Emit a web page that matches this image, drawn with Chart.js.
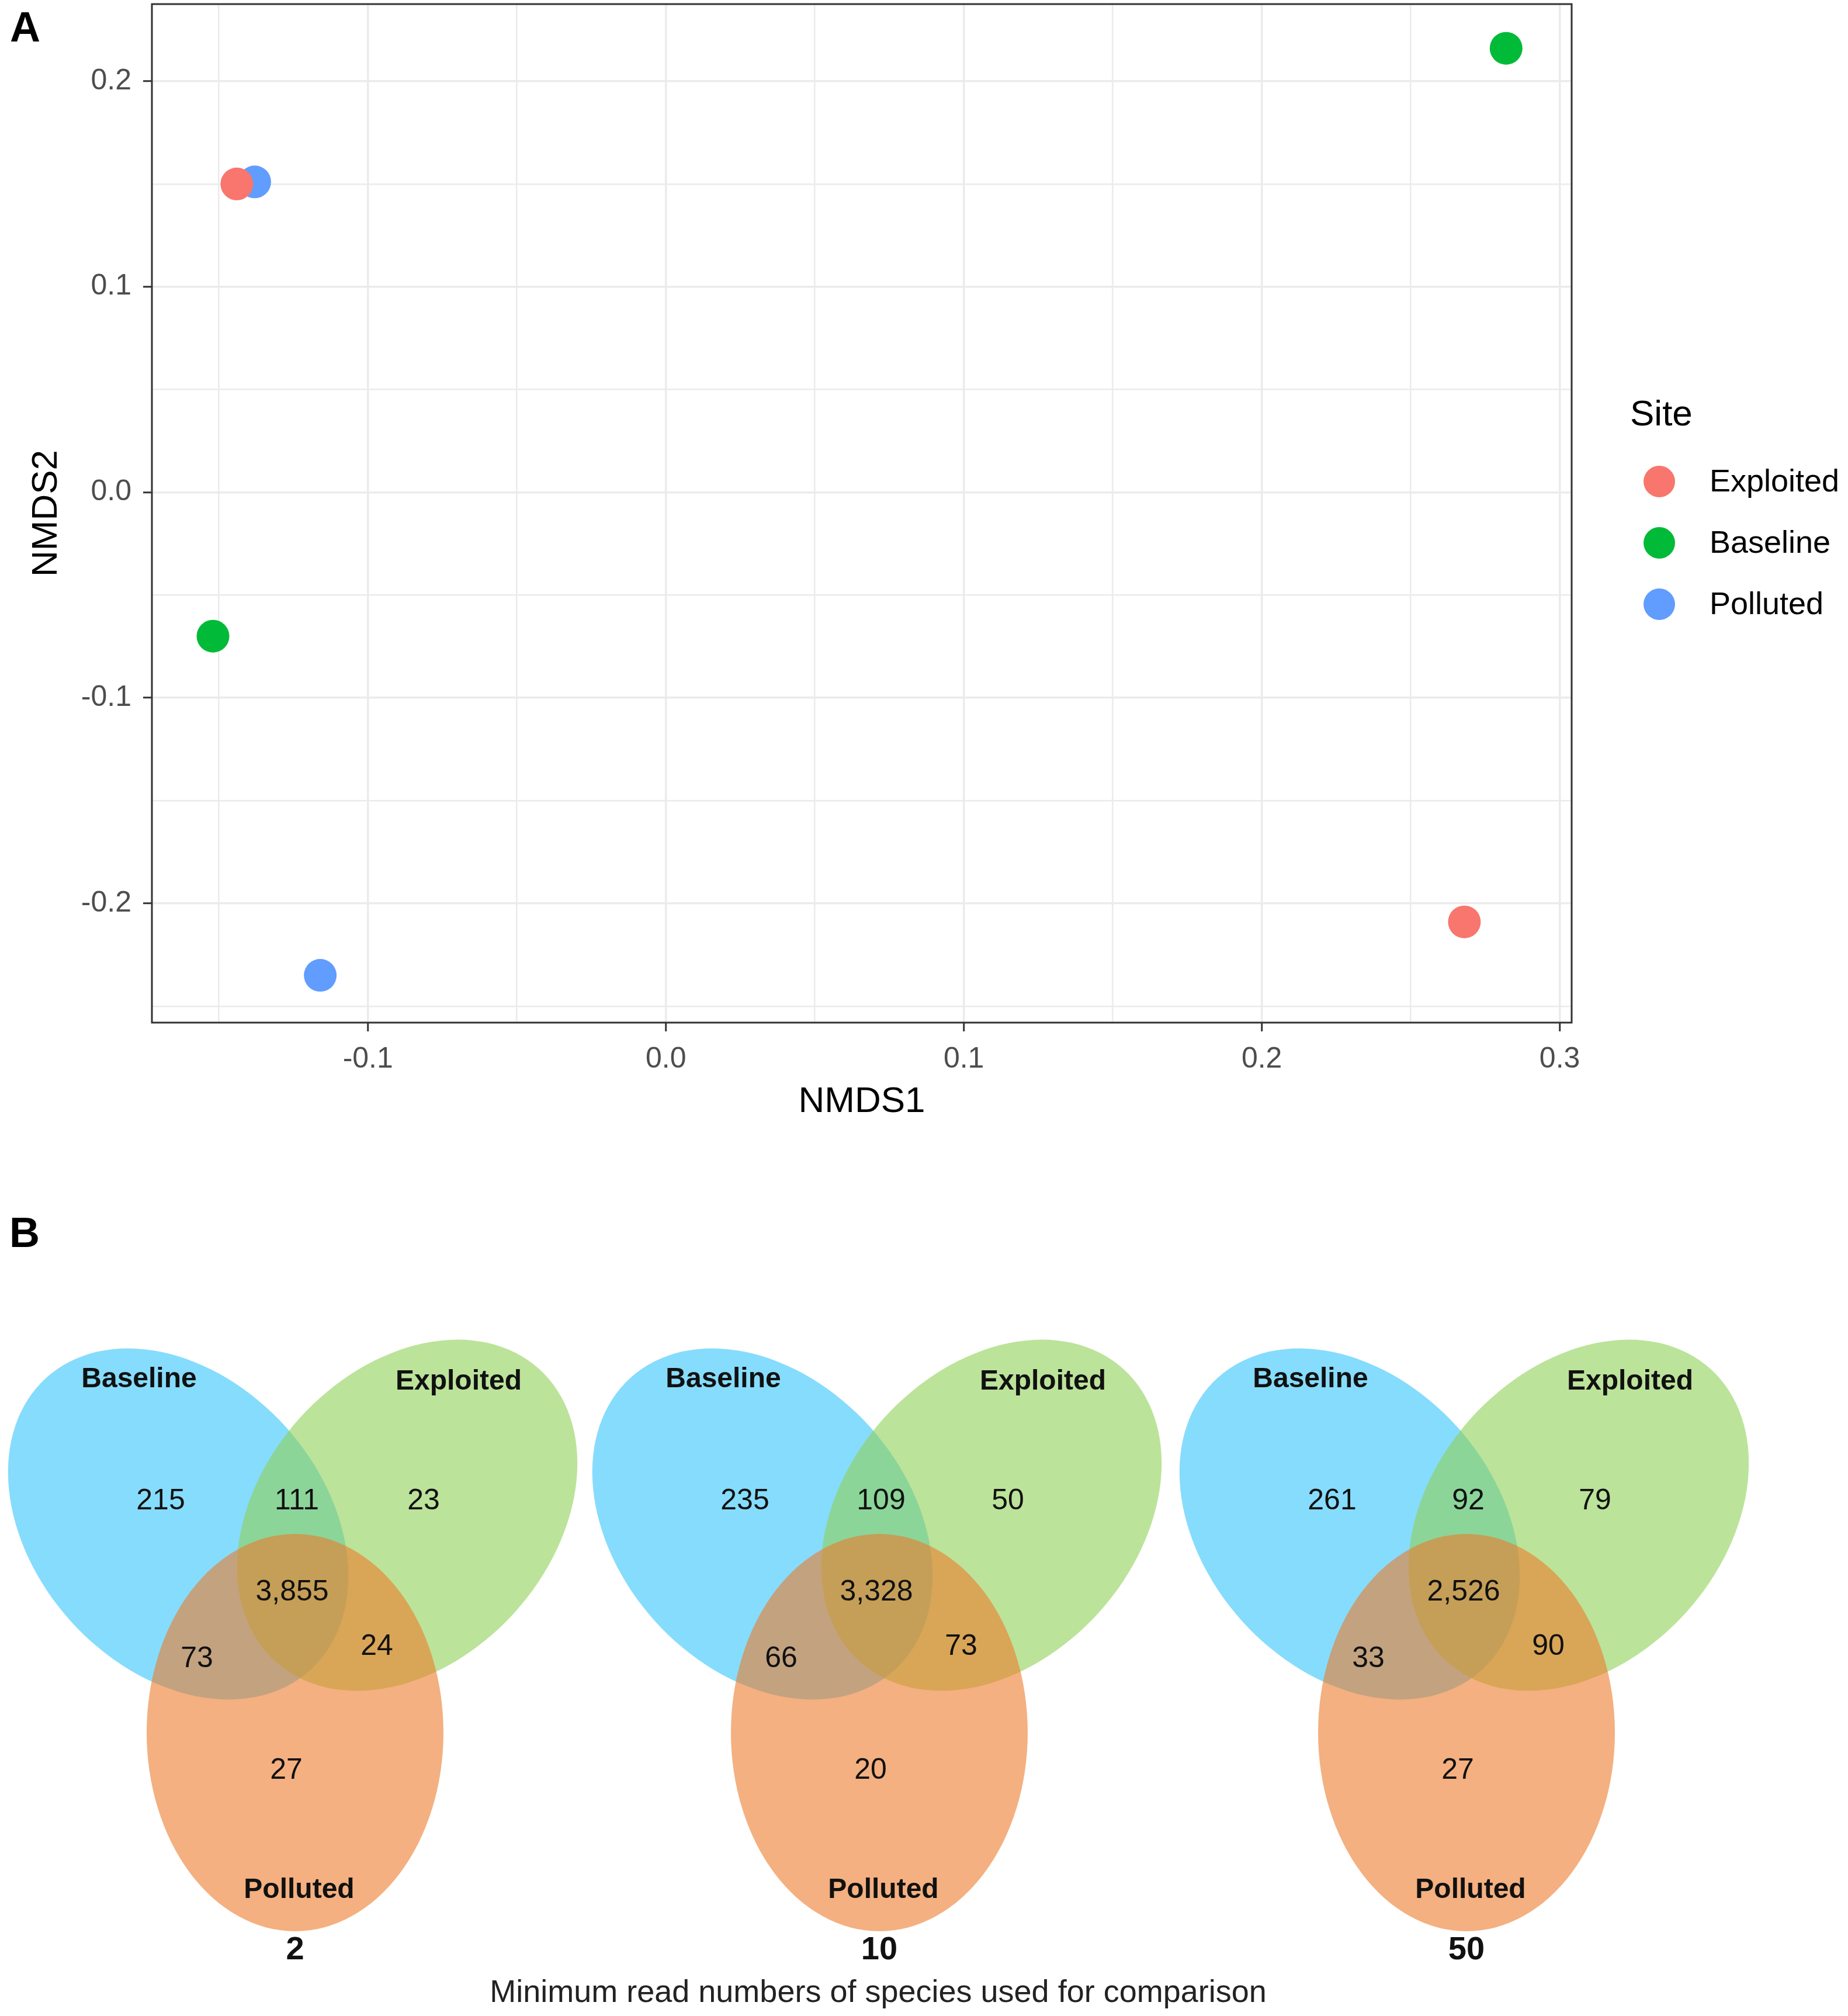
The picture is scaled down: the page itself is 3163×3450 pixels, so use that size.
<!DOCTYPE html>
<html>
<head>
<meta charset="utf-8">
<title>NMDS et diagrammes de Venn</title>
<script src="https://cdn.jsdelivr.net/npm/chart.js@4.4.1/dist/chart.umd.min.js"></script>
<style>
  html, body { margin: 0; padding: 0; background: #ffffff; }
  #page  { position: relative; width: 3163px; height: 3450px; }
  #nmds  { position: absolute; left: 0; top: 0; }
  #venn  { position: absolute; left: 0; top: 1950px; }
</style>
</head>
<body>
<div id="page">
  <canvas id="nmds" width="3163" height="1950"></canvas>
  <canvas id="venn" width="3163" height="1500"></canvas>
</div>
<script>
// ---- Panel A : NMDS ----
const SITES        = ['Exploited', 'Baseline', 'Polluted'];
const SITE_COLOURS = ['#F8766D', '#00BA38', '#619CFF'];

const NMDS1_EXPLOITED = [-0.144, 0.268];
const NMDS2_EXPLOITED = [0.150, -0.209];
const NMDS1_BASELINE  = [-0.152, 0.282];
const NMDS2_BASELINE  = [-0.070, 0.216];
const NMDS1_POLLUTED  = [-0.138, -0.116];
const NMDS2_POLLUTED  = [0.151, -0.235];

const X_MAJOR = [-0.1, 0.0, 0.1, 0.2, 0.3];
const X_MINOR = [-0.15, -0.05, 0.05, 0.15, 0.25];
const Y_MAJOR = [-0.2, -0.1, 0.0, 0.1, 0.2];
const Y_MINOR = [-0.25, -0.15, -0.05, 0.05, 0.15];

// ---- Panel B : Venn ----
const THRESHOLDS         = ['2', '10', '50'];
const SET_NAMES          = ['Baseline', 'Exploited', 'Polluted'];
const BASELINE_ONLY      = [215, 235, 261];
const BASELINE_EXPLOITED = [111, 109, 92];
const EXPLOITED_ONLY     = [23, 50, 79];
const ALL_THREE          = [3855, 3328, 2526];
const BASELINE_POLLUTED  = [73, 66, 33];
const EXPLOITED_POLLUTED = [24, 73, 90];
const POLLUTED_ONLY      = [27, 20, 27];

const FONT = "'Liberation Sans', Arial, sans-serif";
Chart.defaults.font.family = FONT;

function points(xs, ys) {
    return xs.map((x, i) => ({ x: x, y: ys[i] }));
}

function ticksFrom(major, minor) {
    return major.map(v => ({ value: v, minor: false }))
        .concat(minor.map(v => ({ value: v, minor: true })))
        .sort((a, b) => a.value - b.value);
}

// grille ggplot : lignes majeures + mineures, traits seulement sur les majeures
function gridOptions() {
    return {
        color      : '#EBEBEB',
        lineWidth  : c => (c.tick && c.tick.minor) ? 2.5 : 3.5,
        tickColor  : c => (c.tick && c.tick.minor) ? 'rgba(0,0,0,0)' : '#333333',
        tickWidth  : 3,
        tickLength : 15,
        drawTicks  : true
    };
}

// pas de marge automatique autour des axes : la zone du graphe reste fixe
function noPadding(s) {
    s.paddingTop = 0;
    s.paddingBottom = 0;
    s.paddingLeft = 0;
    s.paddingRight = 0;
}

const panelA = {
    id : 'panelA',
    afterDraw(chart) {
        const ctx  = chart.ctx;
        const area = chart.chartArea;
        ctx.save();
        // cadre du panneau
        ctx.strokeStyle = '#333333';
        ctx.lineWidth = 3;
        ctx.strokeRect(area.left, area.top, area.right - area.left, area.bottom - area.top);

        // lettre du panneau
        ctx.fillStyle = '#000';
        ctx.font = 'bold 72px ' + FONT;
        ctx.textAlign = 'left';
        ctx.textBaseline = 'alphabetic';
        ctx.fillText('A', 17, 71);

        // légende
        ctx.font = '62px ' + FONT;
        ctx.textBaseline = 'middle';
        ctx.fillText('Site', 2790, 711);
        ctx.font = '54px ' + FONT;
        chart.data.datasets.forEach((ds, i) => {
            const y = 824 + i * 105;
            ctx.fillStyle = ds.backgroundColor;
            ctx.beginPath();
            ctx.arc(2840, y, 27, 0, Math.PI * 2);
            ctx.fill();
            ctx.fillStyle = '#000';
            ctx.fillText(ds.label, 2926, y + 2);
        });
        ctx.restore();
    }
};

new Chart(document.getElementById('nmds'), {
    type : 'scatter',
    data : {
        datasets : [
            { label: SITES[0], data: points(NMDS1_EXPLOITED, NMDS2_EXPLOITED), backgroundColor: SITE_COLOURS[0] },
            { label: SITES[1], data: points(NMDS1_BASELINE,  NMDS2_BASELINE),  backgroundColor: SITE_COLOURS[1] },
            { label: SITES[2], data: points(NMDS1_POLLUTED,  NMDS2_POLLUTED),  backgroundColor: SITE_COLOURS[2] }
        ]
    },
    options : {
        responsive : false,
        devicePixelRatio : 1,
        animation : false,
        layout : { autoPadding: false, padding: { left: 0, right: 473, top: 7, bottom: 0 } },
        elements : { point: { radius: 28, hoverRadius: 28, borderWidth: 0 } },
        plugins : { legend: { display: false }, tooltip: { enabled: false } },
        scales : {
            x : {
                type : 'linear',
                min : -0.1725,
                max : 0.304,
                afterBuildTicks : s => { s.ticks = ticksFrom(X_MAJOR, X_MINOR); },
                afterFit : s => { s.height = 200; noPadding(s); },
                grid : gridOptions(),
                border : { display: false },
                ticks : {
                    autoSkip : false,
                    maxRotation : 0,
                    padding : 18,
                    color : '#4D4D4D',
                    font : { size: 50 },
                    callback : (v, i, t) => t[i].minor ? '' : v.toFixed(1)
                },
                title : {
                    display : true,
                    text : 'NMDS1',
                    color : '#000',
                    font : { size: 62 },
                    padding : { top: 0, bottom: 27 }
                }
            },
            y : {
                type : 'linear',
                min : -0.258,
                max : 0.2375,
                afterBuildTicks : s => { s.ticks = ticksFrom(Y_MAJOR, Y_MINOR); },
                afterFit : s => { s.width = 260; noPadding(s); },
                grid : gridOptions(),
                border : { display: false },
                ticks : {
                    autoSkip : false,
                    padding : 20,
                    color : '#4D4D4D',
                    font : { size: 50 },
                    callback : (v, i, t) => t[i].minor ? '' : v.toFixed(1)
                },
                title : {
                    display : true,
                    text : 'NMDS2',
                    color : '#000',
                    font : { size: 62 },
                    padding : { top: 43, bottom: 0 }
                }
            }
        }
    },
    plugins : [panelA]
});

// ---- Panel B : géométrie des diagrammes (en pixels du canevas) ----
const DIAGRAM_X = [0, 1000, 2005];
const ELLIPSES = [
    { cx: 305, cy: 658,  rx: 337, ry: 248, rot:  48, fill: 'rgba(53,197,250,0.6)' },
    { cx: 697, cy: 643,  rx: 337, ry: 248, rot: -48, fill: 'rgba(143,208,87,0.6)' },
    { cx: 505, cy: 1015, rx: 254, ry: 340, rot:   0, fill: 'rgba(237,123,43,0.6)' }
];
const NAME_POS = [[238, 411], [785, 415], [512, 1285]];
const REGION_POS = [[275, 619], [508, 619], [725, 619], [500, 775], [337, 889], [645, 868], [490, 1080]];
const REGIONS = [BASELINE_ONLY, BASELINE_EXPLOITED, EXPLOITED_ONLY, ALL_THREE,
                 BASELINE_POLLUTED, EXPLOITED_POLLUTED, POLLUTED_ONLY];

const vennPlugin = {
    id : 'venn',
    beforeDatasetsDraw(chart) {
        const ctx = chart.ctx;
        const sx = chart.scales.x;
        const sy = chart.scales.y;
        ctx.save();
        THRESHOLDS.forEach((t, d) => {
            ELLIPSES.forEach(e => {
                const px = sx.getPixelForValue(DIAGRAM_X[d] + e.cx);
                const py = sy.getPixelForValue(e.cy);
                const rx = Math.abs(sx.getPixelForValue(DIAGRAM_X[d] + e.cx + e.rx) - px);
                const ry = Math.abs(sy.getPixelForValue(e.cy + e.ry) - py);
                ctx.fillStyle = e.fill;
                ctx.beginPath();
                ctx.ellipse(px, py, rx, ry, e.rot * Math.PI / 180, 0, Math.PI * 2);
                ctx.fill();
            });
        });
        ctx.restore();
    },
    afterDraw(chart) {
        const ctx = chart.ctx;
        const sx = chart.scales.x;
        const sy = chart.scales.y;
        ctx.save();
        ctx.fillStyle = '#111';
        ctx.textAlign = 'center';
        ctx.textBaseline = 'middle';
        THRESHOLDS.forEach((t, d) => {
            ctx.font = 'bold 48px ' + FONT;
            SET_NAMES.forEach((n, i) => {
                ctx.fillText(n, sx.getPixelForValue(DIAGRAM_X[d] + NAME_POS[i][0]), sy.getPixelForValue(NAME_POS[i][1]));
            });
            ctx.font = '50px ' + FONT;
            REGIONS.forEach((arr, r) => {
                ctx.fillText(arr[d].toLocaleString('en-US'),
                    sx.getPixelForValue(DIAGRAM_X[d] + REGION_POS[r][0]), sy.getPixelForValue(REGION_POS[r][1]));
            });
            ctx.font = 'bold 56px ' + FONT;
            ctx.fillText(t, sx.getPixelForValue(DIAGRAM_X[d] + 505), sy.getPixelForValue(1388));
        });
        ctx.font = '54px ' + FONT;
        ctx.fillStyle = '#222';
        ctx.fillText('Minimum read numbers of species used for comparison', sx.getPixelForValue(1503), sy.getPixelForValue(1461));
        ctx.font = 'bold 72px ' + FONT;
        ctx.fillStyle = '#000';
        ctx.textAlign = 'left';
        ctx.textBaseline = 'alphabetic';
        ctx.fillText('B', 16, 184);
        ctx.restore();
    }
};

new Chart(document.getElementById('venn'), {
    type : 'scatter',
    data : { datasets: [] },
    options : {
        responsive : false,
        devicePixelRatio : 1,
        animation : false,
        layout : { padding: 0 },
        plugins : { legend: { display: false }, tooltip: { enabled: false } },
        scales : {
            x : { type: 'linear', min: 0, max: 3163, display: false },
            y : { type: 'linear', min: 0, max: 1500, reverse: true, display: false }
        }
    },
    plugins : [vennPlugin]
});
</script>
</body>
</html>
